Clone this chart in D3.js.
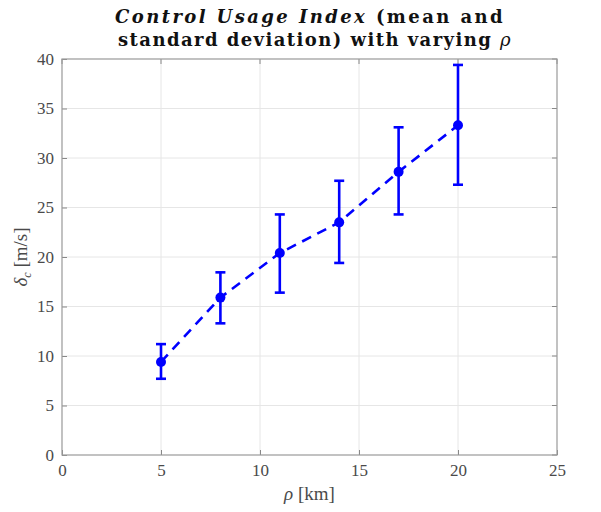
<!DOCTYPE html>
<meta charset="utf-8">
<style>
  body { margin: 0; background: #fff; }
  text { font-family: "Liberation Serif", "DejaVu Serif", serif; }
</style>
<svg width="601" height="512"></svg>
<script src="https://d3js.org/d3.v7.min.js"></script>
<script>
// data
const rho = [5, 8, 11, 14, 17, 20]
const meanVals = [9.4, 15.9, 20.4, 23.5, 28.6, 33.3]
const upperVals = [11.2, 18.45, 24.3, 27.7, 33.1, 39.4]
const lowerVals = [7.7, 13.3, 16.4, 19.4, 24.3, 27.3]
const xTicks = [0, 5, 10, 15, 20, 25]
const yTicks = [0, 5, 10, 15, 20, 25, 30, 35, 40]

const svg = d3.select('svg')
const pLeft = 62, pRight = 557, pTop = 59, pBottom = 455

const x = d3.scaleLinear().domain([0, 25]).range([pLeft, pRight])
const y = d3.scaleLinear().domain([0, 40]).range([pBottom, pTop])

// grid
svg.append('g').selectAll('line').data(xTicks.slice(1, -1)).enter().append('line')
  .attr('x1', d => x(d)).attr('x2', d => x(d)).attr('y1', pTop).attr('y2', pBottom)
  .attr('stroke', '#e6e6e6').attr('stroke-width', 1)
svg.append('g').selectAll('line').data(yTicks.slice(1, -1)).enter().append('line')
  .attr('y1', d => y(d)).attr('y2', d => y(d)).attr('x1', pLeft).attr('x2', pRight)
  .attr('stroke', '#e6e6e6').attr('stroke-width', 1)

// axes
const xAxis = d3.axisBottom(x).tickValues(xTicks).tickSize(-5).tickPadding(9)
const yAxis = d3.axisLeft(y).tickValues(yTicks).tickSize(-5).tickPadding(8)
const gx = svg.append('g').attr('transform', `translate(0,${pBottom})`).call(xAxis)
const gy = svg.append('g').attr('transform', `translate(${pLeft},0)`).call(yAxis)
for (const g of [gx, gy]) {
  g.select('.domain').remove()
  g.selectAll('line').attr('stroke', '#888')
  g.selectAll('text').attr('fill', '#4a4a4a').attr('font-size', 17)
    .style('font-family', '"Liberation Serif", serif')
}
// top/right ticks and box
svg.append('g').selectAll('line').data(xTicks).enter().append('line')
  .attr('x1', d => x(d)).attr('x2', d => x(d)).attr('y1', pTop).attr('y2', pTop + 5).attr('stroke', '#888')
svg.append('g').selectAll('line').data(yTicks).enter().append('line')
  .attr('y1', d => y(d)).attr('y2', d => y(d)).attr('x1', pRight).attr('x2', pRight - 5).attr('stroke', '#888')
svg.append('rect').attr('x', pLeft).attr('y', pTop).attr('width', pRight - pLeft).attr('height', pBottom - pTop)
  .attr('fill', 'none').attr('stroke', '#999').attr('stroke-width', 1.2)

const blue = '#0000ff'
const pts = rho.map((r, i) => ({ r, m: meanVals[i], hi: upperVals[i], lo: lowerVals[i] }))

// dashed mean line
svg.append('path').datum(pts)
  .attr('d', d3.line().x(d => x(d.r)).y(d => y(d.m)))
  .attr('fill', 'none').attr('stroke', blue).attr('stroke-width', 2.6)
  .attr('stroke-dasharray', '10,7')

// error bars
const eb = svg.append('g').attr('stroke', blue).attr('stroke-width', 2.6)
eb.selectAll('.v').data(pts).enter().append('line')
  .attr('x1', d => x(d.r)).attr('x2', d => x(d.r)).attr('y1', d => y(d.hi)).attr('y2', d => y(d.lo))
eb.selectAll('.t').data(pts).enter().append('line')
  .attr('x1', d => x(d.r) - 5).attr('x2', d => x(d.r) + 5).attr('y1', d => y(d.hi)).attr('y2', d => y(d.hi))
eb.selectAll('.b').data(pts).enter().append('line')
  .attr('x1', d => x(d.r) - 5).attr('x2', d => x(d.r) + 5).attr('y1', d => y(d.lo)).attr('y2', d => y(d.lo))

svg.append('g').selectAll('circle').data(pts).enter().append('circle')
  .attr('cx', d => x(d.r)).attr('cy', d => y(d.m)).attr('r', 5).attr('fill', blue)

// title: wide bold serif, spread out to the original's line widths
function spread(t, w) {
  const len = t.node().getComputedTextLength()
  const n = t.text().length
  t.attr('letter-spacing', (w - len) / n)
}
const title = svg.append('text').attr('x', 310).attr('y', 23).attr('text-anchor', 'middle')
  .attr('font-size', 18).attr('font-weight', 'bold').attr('fill', '#111')
  .style('font-family', '"DejaVu Serif", serif')
title.append('tspan').attr('font-style', 'italic').text('Control Usage Index')
title.append('tspan').text(' (mean and')
spread(title, 390)
const title2 = svg.append('text').attr('x', 315).attr('y', 46).attr('text-anchor', 'middle')
  .attr('font-size', 18).attr('font-weight', 'bold').attr('fill', '#111')
  .style('font-family', '"DejaVu Serif", serif')
title2.text('standard deviation) with varying ')
  .append('tspan').attr('font-style', 'italic').attr('font-weight', 'normal').text('ρ')
spread(title2, 394)

// axis labels
const xl = svg.append('text').attr('x', x(12.5)).attr('y', 500).attr('text-anchor', 'middle')
  .attr('font-size', 19).attr('fill', '#4a4a4a')
xl.append('tspan').attr('font-style', 'italic').text('ρ')
xl.append('tspan').text(' [km]')

const yl = svg.append('text').attr('transform', `translate(27,${y(20)}) rotate(-90)`)
  .attr('text-anchor', 'middle').attr('font-size', 19).attr('fill', '#4a4a4a')
yl.append('tspan').attr('font-style', 'italic').text('δ')
yl.append('tspan').attr('font-style', 'italic').attr('font-size', 12).attr('dy', 4).text('c')
yl.append('tspan').attr('dy', -4).text(' [m/s]')
</script>
